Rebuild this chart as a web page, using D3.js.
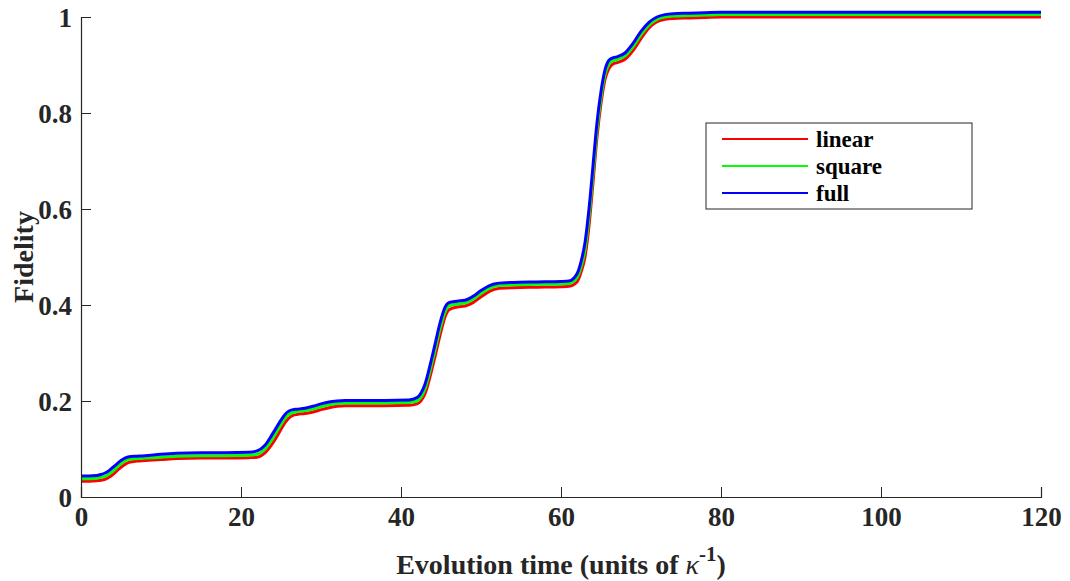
<!DOCTYPE html>
<html>
<head>
<meta charset="utf-8">
<script src="https://cdn.jsdelivr.net/npm/d3@7"></script>
<style>
  body { margin: 0; background: #fff; }
  text { font-family: "Liberation Serif", "Times New Roman", serif; }
</style>
</head>
<body>
<script>
// evolution time samples (units of 1/kappa)
const times = [0, 1, 2, 2.5, 3, 3.5, 4, 4.5, 5, 5.5, 6, 7, 8, 10, 12, 15, 18, 21, 22, 23,
  24, 25, 25.5, 26, 26.5, 27, 28, 29, 30, 31, 32, 33, 35, 38, 41, 42, 43, 44, 45, 45.5,
  46, 47, 48, 49, 50, 51, 52, 54, 57, 60, 61, 62, 62.5, 63, 63.5, 64, 64.5, 65, 65.5, 66,
  66.5, 67, 68, 69, 70, 71, 72, 73, 74, 76, 78, 80, 90, 100, 110, 120];

const linear = [0.033, 0.033, 0.034, 0.035, 0.037, 0.041, 0.047, 0.055, 0.062, 0.068, 0.072, 0.075, 0.076, 0.078, 0.080, 0.081, 0.081, 0.082, 0.083, 0.092,
  0.113, 0.141, 0.155, 0.165, 0.170, 0.172, 0.174, 0.177, 0.182, 0.186, 0.189, 0.190, 0.190, 0.190, 0.191, 0.194, 0.215, 0.275, 0.345, 0.375,
  0.390, 0.396, 0.398, 0.405, 0.417, 0.428, 0.434, 0.436, 0.437, 0.438, 0.439, 0.448, 0.468, 0.500, 0.565, 0.655, 0.750, 0.820, 0.870, 0.893,
  0.902, 0.905, 0.912, 0.930, 0.955, 0.977, 0.990, 0.995, 0.997, 0.998, 0.999, 1.000, 1.000, 1.000, 1.000, 1.000];

const square = [0.038, 0.038, 0.039, 0.041, 0.043, 0.048, 0.054, 0.062, 0.069, 0.075, 0.078, 0.080, 0.081, 0.083, 0.085, 0.086, 0.086, 0.087, 0.089, 0.100,
  0.123, 0.151, 0.164, 0.172, 0.176, 0.178, 0.180, 0.183, 0.188, 0.192, 0.195, 0.196, 0.196, 0.196, 0.197, 0.200, 0.225, 0.288, 0.358, 0.385,
  0.398, 0.402, 0.404, 0.412, 0.424, 0.434, 0.440, 0.442, 0.443, 0.444, 0.445, 0.457, 0.479, 0.515, 0.583, 0.673, 0.765, 0.833, 0.880, 0.902,
  0.909, 0.911, 0.919, 0.938, 0.963, 0.983, 0.995, 1.000, 1.002, 1.003, 1.004, 1.005, 1.005, 1.005, 1.005, 1.005];

const full = [0.044, 0.044, 0.045, 0.047, 0.050, 0.055, 0.062, 0.069, 0.076, 0.081, 0.084, 0.085, 0.086, 0.089, 0.091, 0.092, 0.092, 0.093, 0.096, 0.108,
  0.133, 0.160, 0.172, 0.179, 0.182, 0.183, 0.185, 0.189, 0.194, 0.198, 0.200, 0.201, 0.201, 0.201, 0.202, 0.207, 0.235, 0.300, 0.370, 0.395,
  0.405, 0.408, 0.410, 0.418, 0.430, 0.440, 0.445, 0.447, 0.448, 0.449, 0.450, 0.465, 0.490, 0.530, 0.600, 0.690, 0.780, 0.845, 0.890, 0.910,
  0.915, 0.917, 0.925, 0.945, 0.970, 0.989, 1.000, 1.005, 1.007, 1.008, 1.009, 1.010, 1.010, 1.010, 1.010, 1.010];

const seriesNames = ["linear", "square", "full"];
const seriesColors = ["#ff0000", "#00ff00", "#0000ff"];
const xTicks = [0, 20, 40, 60, 80, 100, 120];
const yTicks = [0, 0.2, 0.4, 0.6, 0.8, 1];

const width = 1070, height = 581;
const margin = { left: 81, right: 29, top: 17, bottom: 84 };

const svg = d3.select("body")
  .append("svg")
  .attr("width", width)
  .attr("height", height);

const x = d3.scaleLinear().domain([0, 120]).range([margin.left, width - margin.right]);
const y = d3.scaleLinear().domain([0, 1]).range([height - margin.bottom, margin.top]);

// curves, drawn red -> green -> blue so blue sits on top
const allSeries = [linear, square, full];
const line = d3.line()
  .x(function (d) { return x(d[0]); })
  .y(function (d) { return y(d[1]); })
  .curve(d3.curveMonotoneX);

allSeries.forEach(function (vals, i) {
  svg.append("path")
    .datum(times.map(function (t, j) { return [t, vals[j]]; }))
    .attr("fill", "none")
    .attr("stroke", seriesColors[i])
    .attr("stroke-width", 3)
    .attr("stroke-linejoin", "round")
    .attr("d", line);
});

// axes (ticks pointing inward, no box)
const xAxis = svg.append("g")
  .attr("transform", "translate(0," + y(0) + ")")
  .call(d3.axisBottom(x).tickValues(xTicks).tickSize(-10).tickPadding(10).tickFormat(d3.format("d")));

const yAxis = svg.append("g")
  .attr("transform", "translate(" + x(0) + ",0)")
  .call(d3.axisLeft(y).tickValues(yTicks).tickSize(-10).tickPadding(9).tickFormat(function (d) { return d === 0 || d === 1 ? d : d3.format(".1f")(d); }));

[xAxis, yAxis].forEach(function (g) {
  g.select(".domain").attr("stroke", "#262626").attr("stroke-width", 1.2);
  g.selectAll(".tick line").attr("stroke", "#262626").attr("stroke-width", 1);
  g.selectAll(".tick text")
    .attr("fill", "#262626")
    .attr("font-family", "Liberation Serif")
    .attr("font-weight", "bold")
    .attr("font-size", 27);
});
xAxis.selectAll(".tick text").attr("dy", "0.72em");
yAxis.selectAll(".tick text").attr("dy", "0.35em");

// axis titles
svg.append("text")
  .attr("transform", "translate(33," + y(0.5) + ") rotate(-90)")
  .attr("text-anchor", "middle")
  .attr("font-weight", "bold")
  .attr("font-size", 28)
  .attr("fill", "#262626")
  .text("Fidelity");

const xTitle = svg.append("text")
  .attr("x", x(60))
  .attr("y", 574)
  .attr("text-anchor", "middle")
  .attr("font-weight", "bold")
  .attr("font-size", 28)
  .attr("fill", "#262626");
xTitle.append("tspan").text("Evolution time (units of ");
xTitle.append("tspan").attr("font-style", "italic").attr("font-weight", "normal").text("\u03ba");
xTitle.append("tspan").attr("dy", -13).attr("font-size", 21).text("-1");
xTitle.append("tspan").attr("dy", 13).text(")");

// legend
const legend = svg.append("g").attr("transform", "translate(706,123)");
legend.append("rect")
  .attr("width", 266)
  .attr("height", 86)
  .attr("fill", "#fff")
  .attr("stroke", "#262626")
  .attr("stroke-width", 1);

seriesNames.forEach(function (name, i) {
  const row = legend.append("g").attr("transform", "translate(0," + (16 + i * 27) + ")");
  row.append("line")
    .attr("x1", 16).attr("x2", 102)
    .attr("stroke", seriesColors[i])
    .attr("stroke-width", 2);
  row.append("text")
    .attr("x", 110)
    .attr("dy", "0.35em")
    .attr("font-weight", "bold")
    .attr("font-size", 23)
    .attr("fill", "#000")
    .text(name);
});
</script>
</body>
</html>
